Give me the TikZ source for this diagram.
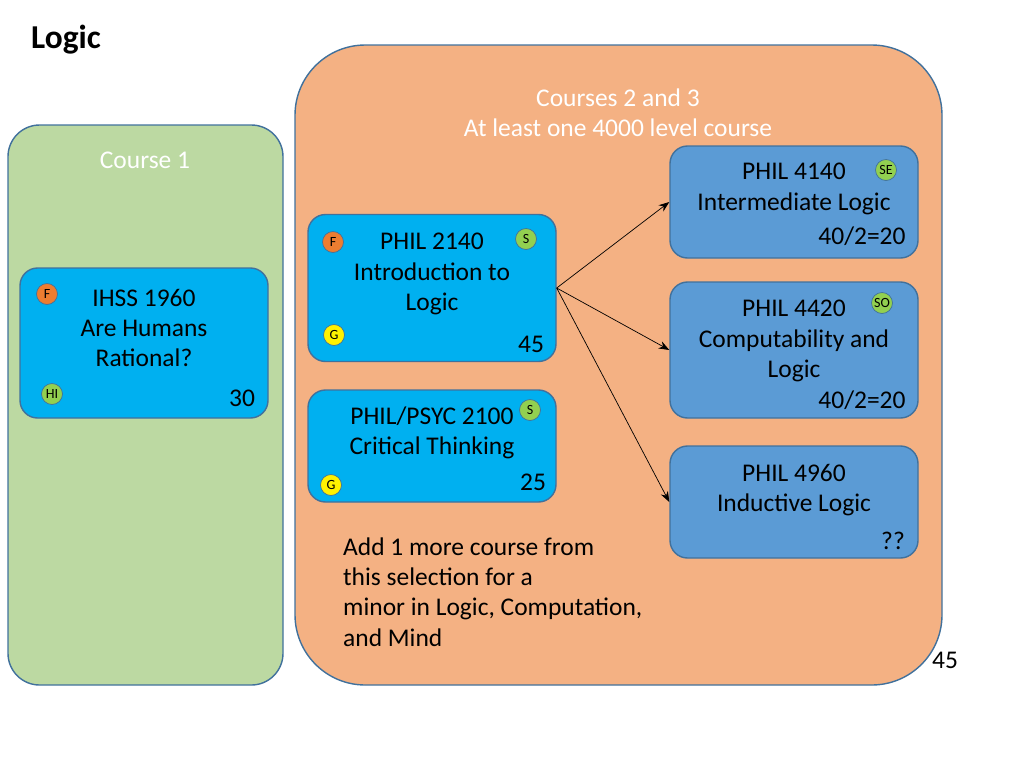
\documentclass[tikz,border=0pt]{standalone}
\usepackage{fontspec}
\setmainfont{Carlito}
\usetikzlibrary{positioning,arrows.meta}
\definecolor{frame}{HTML}{41719C}
\definecolor{greenbg}{HTML}{BCD9A2}
\definecolor{orangebg}{HTML}{F4B183}
\definecolor{cyanbox}{HTML}{00B0F0}
\definecolor{bluebox}{HTML}{5B9BD5}
\definecolor{tagorange}{HTML}{ED7D31}
\definecolor{taggreen}{HTML}{92D050}
\tikzset{
	course/.style={draw=frame,thick,rounded corners=10pt,minimum width=248*0.02cm},
	title/.style={align=center,font=\fontsize{14.5}{17.3}\selectfont},
	tag/.style={circle,draw=frame,minimum size=0.42cm,inner sep=0pt,font=\fontsize{8}{9}\selectfont},
	num/.style={font=\fontsize{14.5}{16}\selectfont},
}
\begin{document}
\begin{tikzpicture}[x=0.02cm,y=-0.02cm]
	\useasboundingbox (0,0) rectangle (1024,768);
	\node (logic) at (66,40) [font=\fontsize{19}{21}\selectfont\bfseries] {Logic};
	% background panels
	\draw[frame,thick,fill=greenbg,rounded corners=18pt] (8,125) rectangle (283,685);
	\draw[frame,thick,fill=orangebg,rounded corners=40pt] (295,45) rectangle (942,685);
	\node (c1) at (145,160) [title,white] {Course 1};
	\node (c23) at (618,113) [title,white] {Courses 2 and 3\\At least one 4000 level course};
	% course boxes
	\node (ihss) at (144,343) [course,fill=cyanbox,minimum height=150*0.02cm] {};
	\node at (144,328) [title] {IHSS 1960\\Are Humans\\Rational?};
	\node (p2140) at (432,288) [course,fill=cyanbox,minimum height=147*0.02cm] {};
	\node at (432,274) [title] {PHIL 2140\\Introduction to\\Logic};
	\node (p2100) at (432,446) [course,fill=cyanbox,minimum height=112*0.02cm] {};
	\node at (432,433) [title] {PHIL/PSYC 2100\\Critical Thinking};
	\node (p4140) at (794,202) [course,fill=bluebox,minimum height=112*0.02cm] {};
	\node at (794,189) [title] {PHIL 4140\\Intermediate Logic};
	\node (p4420) at (794,350) [course,fill=bluebox,minimum height=136*0.02cm] {};
	\node at (794,341) [title] {PHIL 4420\\Computability and\\Logic};
	\node (p4960) at (794,502) [course,fill=bluebox,minimum height=112*0.02cm] {};
	\node at (794,490) [title] {PHIL 4960\\Inductive Logic};
	% numbers
	\node at (242,398) [num] {30};
	\node at (531,344) [num] {45};
	\node at (533,482) [num] {25};
	\node at (862,236) [num] {40/2=20};
	\node at (862,400) [num] {40/2=20};
	\node at (893,541) [num] {??};
	\node at (945,660) [num] {45};
	% tags
	\node at (47,294) [tag,fill=tagorange] {F};
	\node at (52,394) [tag,fill=taggreen] {HI};
	\node at (333,242) [tag,fill=tagorange] {F};
	\node at (526,239) [tag,fill=taggreen] {S};
	\node at (334,335) [tag,fill=yellow] {G};
	\node at (530,410) [tag,fill=taggreen] {S};
	\node at (331,485) [tag,fill=yellow] {G};
	\node at (886,170) [tag,fill=taggreen] {SE};
	\node at (882,303) [tag,fill=taggreen] {SO};
	% arrows
	\draw[-{Stealth[length=6pt]}] (p2140.east) -- (p4140.west);
	\draw[-{Stealth[length=6pt]}] (p2140.east) -- (p4420.west);
	\draw[-{Stealth[length=6pt]}] (p2140.east) -- (p4960.west);
	\node (note) at (337,592) [anchor=west,align=left,font=\fontsize{14.5}{17.3}\selectfont] {Add 1 more course from\\this selection for a\\minor in Logic, Computation,\\and Mind};
\end{tikzpicture}
\end{document}
